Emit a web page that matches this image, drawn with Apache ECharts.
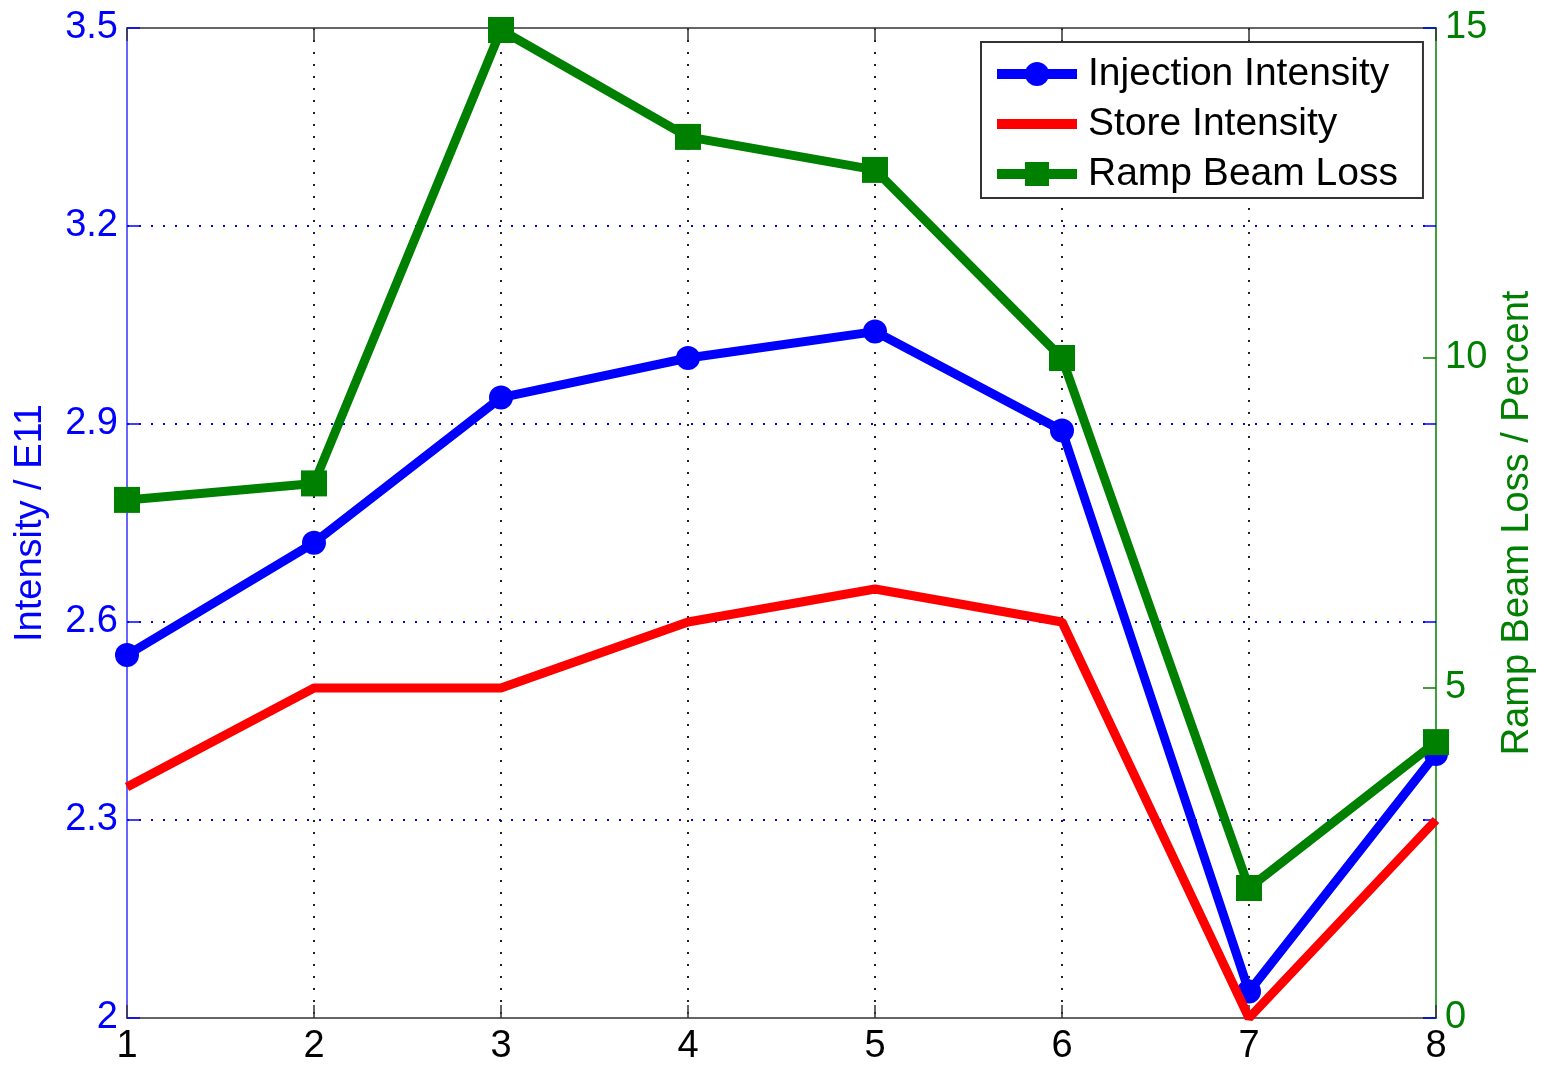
<!DOCTYPE html>
<html>
<head>
<meta charset="utf-8">
<script src="https://cdn.jsdelivr.net/npm/echarts@6/dist/echarts.min.js"></script>
<style>
  html, body { margin: 0; padding: 0; background: #fff; }
  #chart { width: 1544px; height: 1067px; }
</style>
</head>
<body>
<div id="chart"></div>
<script>
// values
const cycles = [1, 2, 3, 4, 5, 6, 7, 8]
const injectionIntensity = [2.55, 2.72, 2.94, 3.00, 3.04, 2.89, 2.04, 2.40]
const storeIntensity = [2.35, 2.50, 2.50, 2.60, 2.65, 2.60, 2.00, 2.30]
const rampBeamLoss = [7.85, 8.1, 14.97, 13.35, 12.85, 10.0, 1.97, 4.18]

const blue = '#0000ff'
const red = '#ff0000'
const green = '#008000'
const font = 'Liberation Sans, Arial, sans-serif'

function pairs(xs, ys) {
    return xs.map((x, i) => [x, ys[i]])
}

let chart = echarts.init(document.querySelector('#chart'))

let option = {
    animation: false,
    textStyle: { fontFamily: font },
    grid: {
        left: 127,
        right: 108,
        top: 28,
        bottom: 49,
        outerBoundsMode: 'none'
    },
    legend: {
        left: 981,
        top: 42,
        orient: 'vertical',
        padding: [12, 25, 4, 11],
        itemWidth: 80,
        itemHeight: 30,
        itemGap: 10,
        borderColor: '#333',
        borderWidth: 2,
        backgroundColor: '#fff',
        textStyle: { fontSize: 39, color: '#000', fontFamily: font, lineHeight: 40, padding: [0, 0, 0, 6] },
        data: [
            { name: 'Injection Intensity', lineStyle: { width: 10 } },
            { name: 'Store Intensity', lineStyle: { width: 10 }, itemStyle: { opacity: 0 } },
            { name: 'Ramp Beam Loss', lineStyle: { width: 10 } }
        ]
    },
    xAxis: [
        {
            type: 'value',
            min: 1,
            max: 8,
            interval: 1,
            position: 'bottom',
            axisLine: { lineStyle: { color: '#333', width: 1.5 } },
            axisTick: { inside: true, length: 13, lineStyle: { color: '#333', width: 1.5 } },
            axisLabel: { fontSize: 38, color: '#000', margin: 10, fontFamily: font },
            splitLine: { show: true, showMinLine: false, showMaxLine: false, lineStyle: { color: '#222', type: [2, 10], width: 2 } }
        },
        {
            type: 'value',
            min: 1,
            max: 8,
            interval: 1,
            position: 'top',
            axisLine: { lineStyle: { color: '#333', width: 1.5 } },
            axisTick: { inside: true, length: 13, lineStyle: { color: '#333', width: 1.5 } },
            axisLabel: { show: false },
            splitLine: { show: false }
        }
    ],
    yAxis: [
        {
            type: 'value',
            min: 2,
            max: 3.5,
            interval: 0.3,
            position: 'left',
            name: 'Intensity / E11',
            nameLocation: 'middle',
            nameRotate: 90,
            nameGap: 77,
            nameTextStyle: { fontSize: 38, color: blue, fontFamily: font },
            axisLine: { show: true, lineStyle: { color: '#3333ff', width: 1.5 } },
            axisTick: { show: true, inside: true, length: 13, lineStyle: { color: blue, width: 1.5 } },
            axisLabel: { fontSize: 38, color: blue, margin: 9, fontFamily: font },
            splitLine: { show: true, showMinLine: false, showMaxLine: false, lineStyle: { color: blue, type: [2, 10], width: 2 } }
        },
        {
            type: 'value',
            min: 0,
            max: 15,
            interval: 5,
            position: 'right',
            name: 'Ramp Beam Loss / Percent',
            nameLocation: 'middle',
            nameRotate: 90,
            nameGap: 53,
            nameTextStyle: { fontSize: 38, color: green, fontFamily: font },
            axisLine: { show: true, lineStyle: { color: green, width: 1.5 } },
            axisTick: { show: true, inside: true, length: 13, lineStyle: { color: green, width: 1.5 } },
            axisLabel: { fontSize: 38, color: green, margin: 9, fontFamily: font },
            splitLine: { show: false }
        },
        {
            // mirrored left-axis ticks on the right edge
            type: 'value',
            min: 2,
            max: 3.5,
            interval: 0.3,
            position: 'right',
            offset: 0,
            axisLine: { show: false },
            axisTick: { show: true, inside: true, length: 13, lineStyle: { color: blue, width: 1.5 } },
            axisLabel: { show: false },
            splitLine: { show: false }
        }
    ],
    series: [
        {
            name: 'Injection Intensity',
            type: 'line',
            xAxisIndex: 0,
            yAxisIndex: 0,
            data: pairs(cycles, injectionIntensity),
            symbol: 'circle',
            symbolSize: 24,
            lineStyle: { color: blue, width: 9 },
            itemStyle: { color: blue },
            z: 3
        },
        {
            name: 'Store Intensity',
            type: 'line',
            xAxisIndex: 0,
            yAxisIndex: 0,
            data: pairs(cycles, storeIntensity),
            symbol: 'none',
            lineStyle: { color: red, width: 9 },
            itemStyle: { color: red },
            z: 4
        },
        {
            name: 'Ramp Beam Loss',
            type: 'line',
            xAxisIndex: 0,
            yAxisIndex: 1,
            data: pairs(cycles, rampBeamLoss),
            symbol: 'rect',
            symbolSize: 26,
            lineStyle: { color: green, width: 9 },
            itemStyle: { color: green },
            z: 5
        }
    ]
}

chart.setOption(option)
</script>
</body>
</html>
